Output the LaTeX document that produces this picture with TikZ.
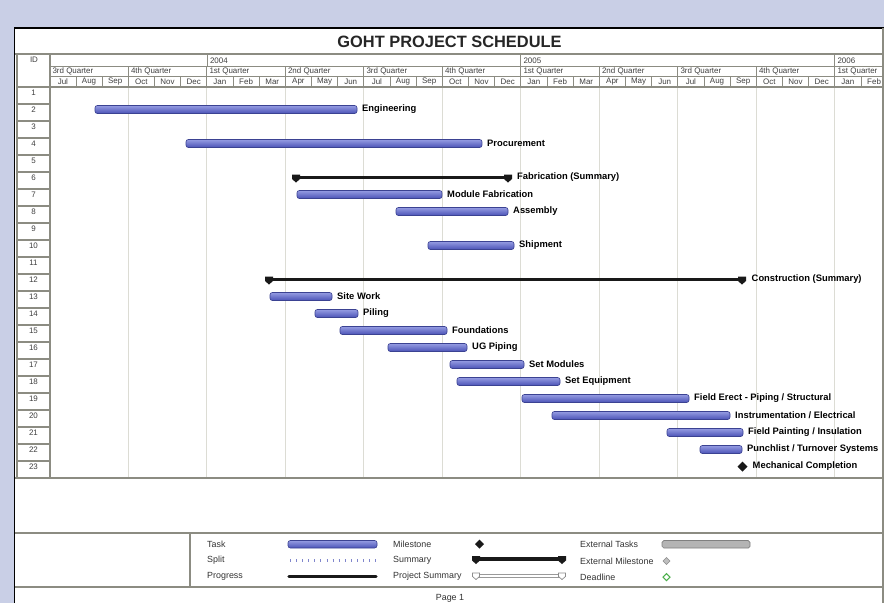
\documentclass[tikz,border=0pt]{standalone}
\usepackage{fontspec}
\setmainfont{Liberation Sans}
\usetikzlibrary{positioning, calc}

\definecolor{pageblue}{HTML}{C9CFE6}
\definecolor{gridgray}{HTML}{DCDCD4}
\definecolor{rulegray}{HTML}{8C8C82}
\definecolor{barblue}{HTML}{4A52B6}
\definecolor{barlight}{HTML}{959CE2}
\definecolor{extgray}{HTML}{B4B4B4}
\definecolor{deadgreen}{HTML}{4CB04C}

\tikzset{
  taskbar/.style={draw=barblue!80!black, line width=0.5pt, rounded corners=2pt,
    top color=barlight, bottom color=barblue},
  tasklbl/.style={anchor=west, inner sep=0pt, font=\fontsize{8}{9}\selectfont\bfseries},
  hdr/.style={inner sep=0pt, text=black!75, font=\fontsize{6.8}{8}\selectfont},
  leglbl/.style={anchor=west, inner sep=0pt, text=black!80, font=\fontsize{7.6}{9}\selectfont},
  tablerule/.style={draw=rulegray, line width=1.2pt}
}

% summary bar: x1, x2, y
\newcommand{\sumbar}[3]{%
  \draw[black!90, line width=2.9pt] (#1,#3) -- (#2,#3);
  \foreach \ex in {#1,#2}
    \fill[black!90] (\ex-4,#3-3) -- (\ex+4,#3-3) -- (\ex+4,#3+1.5)
      -- (\ex,#3+5) -- (\ex-4,#3+1.5) -- cycle;
}

\begin{document}
\begin{tikzpicture}[x=0.03cm, y=-0.03cm]

  % Page frame
  \useasboundingbox (0,0) rectangle (884,603);
  \fill[pageblue] (0,0) rectangle (884,603);
  \fill[white] (15,28) rectangle (884,603);
  \draw[black, line width=1.6pt] (14.5,603) -- (14.5,28) -- (884,28);
  \draw[tablerule] (883,28) -- (883,603);

  % Title
  \node[font=\fontsize{14}{16}\selectfont\bfseries, text=black!85] (title) at (449.5,42) {GOHT PROJECT SCHEDULE};
  \draw[tablerule] (15,54) -- (883,54);

  % Timescale header
  \node[hdr] (idhead) at (34,59.5) {ID};
  \draw[rulegray, line width=0.7pt] (50,66.5) -- (883,66.5);
  \draw[rulegray, line width=0.7pt] (50,76.5) -- (883,76.5);
  \foreach \yx/\yr in {207.3/2004, 520.8/2005, 834.8/2006} {
    \draw[rulegray, line width=0.7pt] (\yx,54) -- (\yx,66.5);
    \node[hdr, anchor=west] (yr\yr) at (\yx+2.5,60.5) {\yr};
  }
  \foreach \q [count=\k from 0] in {3rd,4th,1st,2nd,3rd,4th,1st,2nd,3rd,4th,1st} {
    \draw[rulegray, line width=0.7pt] (49.8+78.5*\k,66.5) -- ++(0,10);
    \node[hdr, anchor=west] (qtr\k) at (52.3+78.5*\k,71.5) {\q\ Quarter};
  }
  \foreach \m [count=\k from 0] in {Jul,Aug,Sep,Oct,Nov,Dec,Jan,Feb,Mar,Apr,May,Jun,Jul,Aug,Sep,Oct,Nov,Dec,Jan,Feb,Mar,Apr,May,Jun,Jul,Aug,Sep,Oct,Nov,Dec,Jan,Feb} {
    \draw[rulegray, line width=0.7pt] (49.8+26.1667*\k,76.5) -- ++(0,10.5);
    \node[hdr] (mon\k) at (62.9+26.1667*\k,82) {\m};
  }

  % Quarter gridlines
  \foreach \k in {1,...,10}
    \draw[gridgray, line width=0.8pt] (49.8+78.5*\k,87) -- (49.8+78.5*\k,478);

  % ID column
  \draw[tablerule, line width=0.9pt] (17,54) -- (17,478);
  \draw[tablerule, line width=0.9pt] (50,54) -- (50,478);
  \draw[tablerule] (17,87) -- (883,87);
  \foreach \i in {1,...,23} {
    \node[hdr] (id\i) at (33.5,75.5+17*\i) {\i};
    \draw[tablerule, line width=0.9pt] (17,87+17*\i) -- (50,87+17*\i);
  }

  % Tasks
  \foreach \r/\xa/\xb/\txt in {2/95/357/Engineering, 4/186/482/Procurement,
      7/297/442/Module Fabrication, 8/396/508/Assembly, 10/428/514/Shipment,
      13/270/332/Site Work, 14/315/358/Piling, 15/340/447/Foundations,
      16/388/467/UG Piping, 17/450/524/Set Modules, 18/457/560/Set Equipment,
      19/522/689/{Field Erect - Piping / Structural},
      20/552/730/{Instrumentation / Electrical},
      21/667/743/{Field Painting / Insulation},
      22/700/742/{Punchlist / Turnover Systems}} {
    \path[taskbar] (\xa,71.5+17*\r) rectangle (\xb,79.5+17*\r);
    \node[tasklbl] (lbl\r) at (\xb+5,75.5+17*\r) {\txt};
  }

  % Summaries
  \sumbar{296}{508}{177.5}
  \node[tasklbl] (lbl6) at (517,177.5) {Fabrication (Summary)};
  \sumbar{269}{742}{279.5}
  \node[tasklbl] (lbl12) at (751.5,279.5) {Construction (Summary)};

  % Milestone
  \fill[black!90] (742.5,461.5) -- (747.5,466.5) -- (742.5,471.5) -- (737.5,466.5) -- cycle;
  \node[tasklbl] (lbl23) at (752.5,466.5) {Mechanical Completion};

  % Bottom rules and legend box
  \draw[tablerule] (15,478) -- (883,478);
  \draw[tablerule] (15,533) -- (883,533);
  \draw[tablerule] (15,587) -- (883,587);
  \draw[tablerule] (190,533) -- (190,587);

  % Legend
  \node[leglbl] (legtask) at (207,544) {Task};
  \node[leglbl] (legsplit) at (207,560.5) {Split};
  \node[leglbl] (legprog) at (207,576.5) {Progress};
  \path[taskbar] (288,540.5) rectangle (377,548);
  \draw[barblue!70, line width=2pt, dash pattern=on 0.6pt off 4.6pt] (290,560.5) -- (377,560.5);
  \draw[black!90, line width=2.8pt, line cap=round] (289,576.5) -- (376,576.5);

  \node[leglbl] (legmile) at (393,544) {Milestone};
  \node[leglbl] (legsum) at (393,560.5) {Summary};
  \node[leglbl] (legproj) at (393,576.5) {Project Summary};
  \fill[black!90] (479.5,539.5) -- (484,544) -- (479.5,548.5) -- (475,544) -- cycle;
  \sumbar{476}{562}{559}
  \draw[black!40, line width=0.6pt] (476,574) -- (562,574) (476,577) -- (562,577);
  \foreach \ex in {476,562}
    \draw[black!45, fill=white, line width=0.6pt] (\ex-3.5,573) -- (\ex+3.5,573) -- (\ex+3.5,576.5)
      -- (\ex,579.5) -- (\ex-3.5,576.5) -- cycle;

  \node[leglbl] (legext) at (580,544) {External Tasks};
  \node[leglbl] (legextm) at (580,561) {External Milestone};
  \node[leglbl] (legdead) at (580,577) {Deadline};
  \draw[black!50, fill=extgray, rounded corners=1.5pt, line width=0.6pt] (662,540.5) rectangle (750,548);
  \draw[black!45, fill=black!25, line width=0.5pt] (666.5,557.5) -- (670,561) -- (666.5,564.5) -- (663,561) -- cycle;
  \draw[deadgreen, line width=0.9pt] (666.5,573.5) -- (670,577) -- (666.5,580.5) -- (663,577) -- cycle;

  % Footer
  \node[leglbl, anchor=center] (page) at (450,598) {Page 1};

\end{tikzpicture}
\end{document}
